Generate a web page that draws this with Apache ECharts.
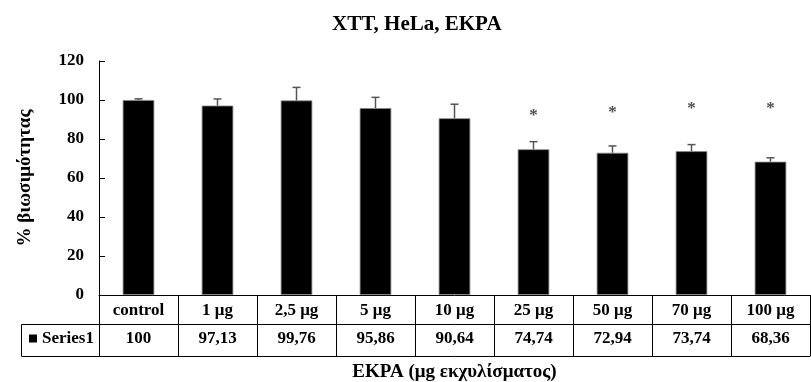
<!DOCTYPE html>
<html>
<head>
<meta charset="utf-8">
<script src="https://cdn.jsdelivr.net/npm/echarts@6/dist/echarts.min.js"></script>
<style>
  html, body { margin: 0; padding: 0; background: #fff; }
  #chart { width: 811px; height: 382px; }
</style>
</head>
<body>
<div id="chart"></div>
<script>
// Cell viability (XTT assay, HeLa cells) per extract dose
const categories = ['control', '1 μg', '2,5 μg', '5 μg', '10 μg', '25 μg', '50 μg', '70 μg', '100 μg'];
const viability = [100, 97.13, 99.76, 95.86, 90.64, 74.74, 72.94, 73.74, 68.36];
const errors = [0.6, 3.4, 6.7, 5.5, 7.2, 3.9, 3.5, 3.4, 2.0];
// height at which a significance asterisk is drawn (null = none)
const significance = [null, null, null, null, null, 92, 93.5, 95.5, 95.5];
const yTicks = { min: 0, max: 120, interval: 20 };

const FONT = "'Liberation Serif', 'Times New Roman', serif";
const GRID = { left: 99, right: 1, top: 61, bottom: 87 };
const ROW_H = 29;      // category row height
const TABLE_H = 61;    // two table rows
const LEGEND_X = 21;   // left edge of the legend cell

const fmt = v => String(v).replace('.', ',');

const chart = echarts.init(document.getElementById('chart'), null, { renderer: 'canvas' });

const txt = { fontFamily: FONT, fontWeight: 'bold', fontSize: 17, color: '#000' };

const option = {
  animation: false,
  backgroundColor: '#fff',
  title: {
    text: 'XTT, HeLa, EKPA',
    left: 327,
    top: 9,
    textStyle: { fontFamily: FONT, fontWeight: 'bold', fontSize: 21, color: '#000' }
  },
  grid: { ...GRID, containLabel: false, outerBoundsMode: 'none' },
  legend: {
    data: ['Series1'],
    left: 29,
    top: 330,
    padding: 0,
    itemWidth: 8,
    itemHeight: 8,
    icon: 'rect',
    itemStyle: { color: '#000', borderWidth: 0 },
    textStyle: txt
  },
  xAxis: [
    {
      type: 'category',
      data: categories,
      position: 'bottom',
      axisLine: { show: true, lineStyle: { color: '#000', width: 1 } },
      axisTick: { show: true, interval: 0, length: TABLE_H, lineStyle: { color: '#000', width: 1 } },
      axisLabel: { ...txt, interval: 0, margin: 7, lineHeight: 17 }
    },
    {
      type: 'category',
      data: viability.map(fmt),
      position: 'bottom',
      offset: ROW_H,
      axisLine: { show: true, lineStyle: { color: '#000', width: 1 } },
      axisTick: { show: false },
      axisLabel: { ...txt, interval: 0, margin: 6, lineHeight: 17 }
    },
    {
      type: 'category',
      data: categories,
      position: 'bottom',
      offset: TABLE_H,
      axisLine: { show: true, lineStyle: { color: '#000', width: 1 } },
      axisTick: { show: false },
      axisLabel: { show: false },
      name: 'EKPA (μg εκχυλίσματος)',
      nameLocation: 'middle',
      nameGap: 7,
      nameTextStyle: { ...txt, fontSize: 19, verticalAlign: 'top' }
    }
  ],
  yAxis: {
    type: 'value',
    min: yTicks.min,
    max: yTicks.max,
    interval: yTicks.interval,
    name: '% βιωσιμότητας',
    nameLocation: 'middle',
    nameGap: 64,
    nameTextStyle: { fontFamily: FONT, fontWeight: 'bold', fontSize: 19, color: '#000' },
    axisLine: { show: true, lineStyle: { color: '#000', width: 1 } },
    axisTick: { show: true, inside: true, length: 6, lineStyle: { color: '#000' } },
    axisLabel: { ...txt, margin: 15 },
    splitLine: { show: false }
  },
  series: [
    {
      name: 'Series1',
      type: 'bar',
      data: viability,
      barWidth: '40%',
      itemStyle: { color: '#000', borderColor: '#888', borderWidth: 0.8 }
    },
    {
      name: 'error',
      type: 'custom',
      data: viability.map((v, i) => [i, v, errors[i]]),
      renderItem: (params, api) => {
        const i = api.value(0);
        const v = api.value(1);
        const e = api.value(2);
        const base = api.coord([i, v]);
        const top = api.coord([i, v + e]);
        const half = 4;
        const style = { stroke: '#555', lineWidth: 1.5 };
        return {
          type: 'group',
          children: [
            { type: 'line', shape: { x1: base[0], y1: base[1], x2: top[0], y2: top[1] }, style },
            { type: 'line', shape: { x1: top[0] - half, y1: top[1], x2: top[0] + half, y2: top[1] }, style }
          ]
        };
      },
      z: 3
    },
    {
      name: 'sig',
      type: 'scatter',
      data: significance,
      symbolSize: 0,
      label: {
        show: true,
        position: 'inside',
        formatter: '*',
        fontFamily: FONT,
        fontWeight: 'bold',
        fontSize: 17,
        color: '#222'
      }
    }
  ]
};

chart.setOption(option);

// Extend the data table's borders around the legend cell
const bottomY = 382 - GRID.bottom;
const row2 = bottomY + ROW_H + 0.5;
const row3 = bottomY + TABLE_H + 0.5;
const lineStyle = { stroke: '#000', lineWidth: 1 };
chart.setOption({
  graphic: [
    { type: 'line', shape: { x1: LEGEND_X + 0.5, y1: row2, x2: GRID.left + 0.5, y2: row2 }, style: lineStyle },
    { type: 'line', shape: { x1: LEGEND_X + 0.5, y1: row3, x2: GRID.left + 0.5, y2: row3 }, style: lineStyle },
    { type: 'line', shape: { x1: LEGEND_X + 0.5, y1: row2, x2: LEGEND_X + 0.5, y2: row3 }, style: lineStyle }
  ]
});
</script>
</body>
</html>
